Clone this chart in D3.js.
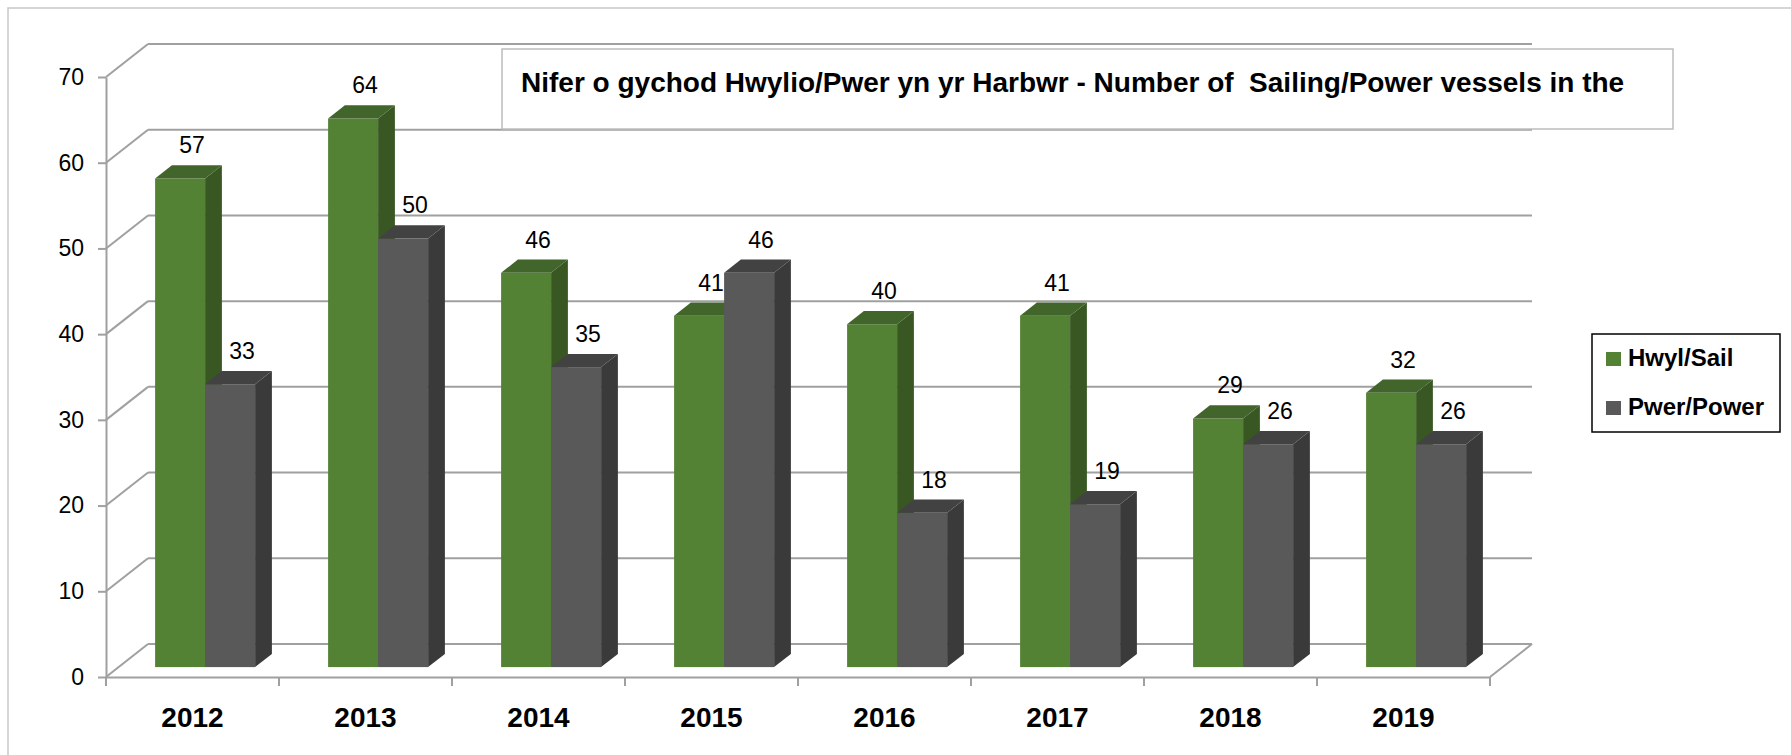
<!DOCTYPE html>
<html>
<head>
<meta charset="utf-8">
<script src="https://cdn.jsdelivr.net/npm/d3@7/dist/d3.min.js"></script>
<style>
  body { margin: 0; background: #fff; }
  svg { display: block; font-family: "Liberation Sans", Arial, sans-serif; }
</style>
</head>
<body>
<script>
// chart data
const years = ["2012", "2013", "2014", "2015", "2016", "2017", "2018", "2019"];
const sail = [57, 64, 46, 41, 40, 41, 29, 32];
const power = [33, 50, 35, 46, 18, 19, 26, 26];
const seriesNames = ["Hwyl/Sail", "Pwer/Power"];
const yTicks = [0, 10, 20, 30, 40, 50, 60, 70];
const title = "Nifer o gychod Hwylio/Pwer yn yr Harbwr - Number of  Sailing/Power vessels in the";

const width = 1791, height = 755;
const front = { face: ["#548235", "#595959"], side: ["#385723", "#3a3a3a"], top: ["#41652a", "#424242"] };
const gridColor = "#a0a0a0";

// depth of the 3d box (back wall offset) and where bars sit inside it
const depthX = 42, depthY = -33;
const barT0 = 0.3, barT1 = 0.7;

const svg = d3.select("body").append("svg")
    .attr("width", width)
    .attr("height", height);

// chart area border
svg.append("rect")
    .attr("x", 8).attr("y", 8)
    .attr("width", width).attr("height", height)
    .attr("fill", "#fff")
    .attr("stroke", "#c8c8c8")
    .attr("stroke-width", 1.5);

const x0 = d3.scaleBand().domain(years).range([106, 1490]).padding(0);
const x1 = d3.scaleBand().domain(seriesNames).range([0, x0.bandwidth()]).paddingInner(0).paddingOuter(0.73);
const y = d3.scaleLinear().domain([0, 70]).range([677, 77]);

const grid = svg.append("g")
    .attr("fill", "none")
    .attr("stroke", gridColor)
    .attr("stroke-width", 2);

// back wall gridlines
grid.selectAll(".back")
    .data(yTicks)
    .enter()
    .append("line")
    .attr("x1", x0.range()[0] + depthX)
    .attr("x2", x0.range()[1] + depthX)
    .attr("y1", d => y(d) + depthY)
    .attr("y2", d => y(d) + depthY);

// left wall diagonals
grid.selectAll(".side")
    .data(yTicks)
    .enter()
    .append("line")
    .attr("x1", x0.range()[0])
    .attr("x2", x0.range()[0] + depthX)
    .attr("y1", d => y(d))
    .attr("y2", d => y(d) + depthY);

// floor right edge
grid.append("line")
    .attr("x1", x0.range()[1]).attr("y1", y(0))
    .attr("x2", x0.range()[1] + depthX).attr("y2", y(0) + depthY);

// category boundary ticks
grid.selectAll(".xtick")
    .data(d3.range(years.length + 1))
    .enter()
    .append("line")
    .attr("x1", i => x0.range()[0] + i * x0.step())
    .attr("x2", i => x0.range()[0] + i * x0.step())
    .attr("y1", y(0))
    .attr("y2", y(0) + 9);

// axes on the front plane
const yAxis = svg.append("g")
    .attr("transform", `translate(${x0.range()[0]},0)`)
    .call(d3.axisLeft(y).tickValues(yTicks).tickSize(8).tickSizeOuter(0).tickPadding(14));
yAxis.selectAll("path, line").attr("stroke", gridColor).attr("stroke-width", 2);
yAxis.selectAll("text")
    .attr("font-size", 23)
    .attr("font-family", "Liberation Sans, Arial, sans-serif")
    .attr("fill", "#000");

const xAxis = svg.append("g")
    .attr("transform", `translate(0,${y(0)})`)
    .call(d3.axisBottom(x0).tickSize(0).tickSizeOuter(0).tickPadding(30));
xAxis.select("path").attr("stroke", gridColor).attr("stroke-width", 2);
xAxis.selectAll("text")
    .attr("font-size", 28)
    .attr("font-weight", "bold")
    .attr("font-family", "Liberation Sans, Arial, sans-serif")
    .attr("fill", "#000");

// bars as 3d boxes
const bars = [];
years.forEach((yr, i) => {
    [sail[i], power[i]].forEach((v, s) => {
        bars.push({ year: yr, s: s, value: v });
    });
});

const fx = depthX * barT0, fy = depthY * barT0;
const dx = depthX * (barT1 - barT0), dy = depthY * (barT1 - barT0);

const barG = svg.append("g")
    .selectAll("g")
    .data(bars)
    .enter()
    .append("g");

barG.each(function(d) {
    const g = d3.select(this);
    const left = x0(d.year) + x1(seriesNames[d.s]) + fx;
    const w = x1.bandwidth();
    const top = y(d.value) + fy;
    const base = y(0) + fy;
    g.append("rect")
        .attr("x", left).attr("y", top)
        .attr("width", w).attr("height", base - top)
        .attr("fill", front.face[d.s]);
    g.append("polygon")
        .attr("points", [[left + w, base], [left + w + dx, base + dy], [left + w + dx, top + dy], [left + w, top]].join(" "))
        .attr("fill", front.side[d.s]);
    g.append("polygon")
        .attr("points", [[left, top], [left + dx, top + dy], [left + w + dx, top + dy], [left + w, top]].join(" "))
        .attr("fill", front.top[d.s]);
});

// value labels above each bar
svg.append("g")
    .selectAll("text")
    .data(bars)
    .enter()
    .append("text")
    .attr("x", d => x0(d.year) + x1(seriesNames[d.s]) + fx + x1.bandwidth() / 2 + 12)
    .attr("y", d => y(d.value) + fy + dy - 20)
    .attr("dy", "0.35em")
    .attr("text-anchor", "middle")
    .attr("font-size", 23)
    .attr("fill", "#000")
    .text(d => d.value);

// title box
svg.append("rect")
    .attr("x", 502).attr("y", 49)
    .attr("width", 1171).attr("height", 80)
    .attr("fill", "#fff")
    .attr("stroke", "#bdbdbd")
    .attr("stroke-width", 1.5);
svg.append("text")
    .attr("x", 521).attr("y", 92)
    .attr("font-size", 28)
    .attr("font-weight", "bold")
    .style("white-space", "pre")
    .attr("fill", "#000")
    .text(title);

// legend
const legend = svg.append("g").attr("transform", "translate(1592,334)");
legend.append("rect")
    .attr("width", 188).attr("height", 98)
    .attr("fill", "#fff")
    .attr("stroke", "#000")
    .attr("stroke-width", 1.5);
const item = legend.selectAll(".item")
    .data(seriesNames)
    .enter()
    .append("g")
    .attr("transform", (d, i) => `translate(14,${18 + i * 49})`);
item.append("rect")
    .attr("width", 15).attr("height", 14)
    .attr("fill", (d, i) => front.face[i]);
item.append("text")
    .attr("x", 22).attr("y", 14)
    .attr("font-size", 24)
    .attr("font-weight", "bold")
    .attr("fill", "#000")
    .text(d => d);
</script>
</body>
</html>
